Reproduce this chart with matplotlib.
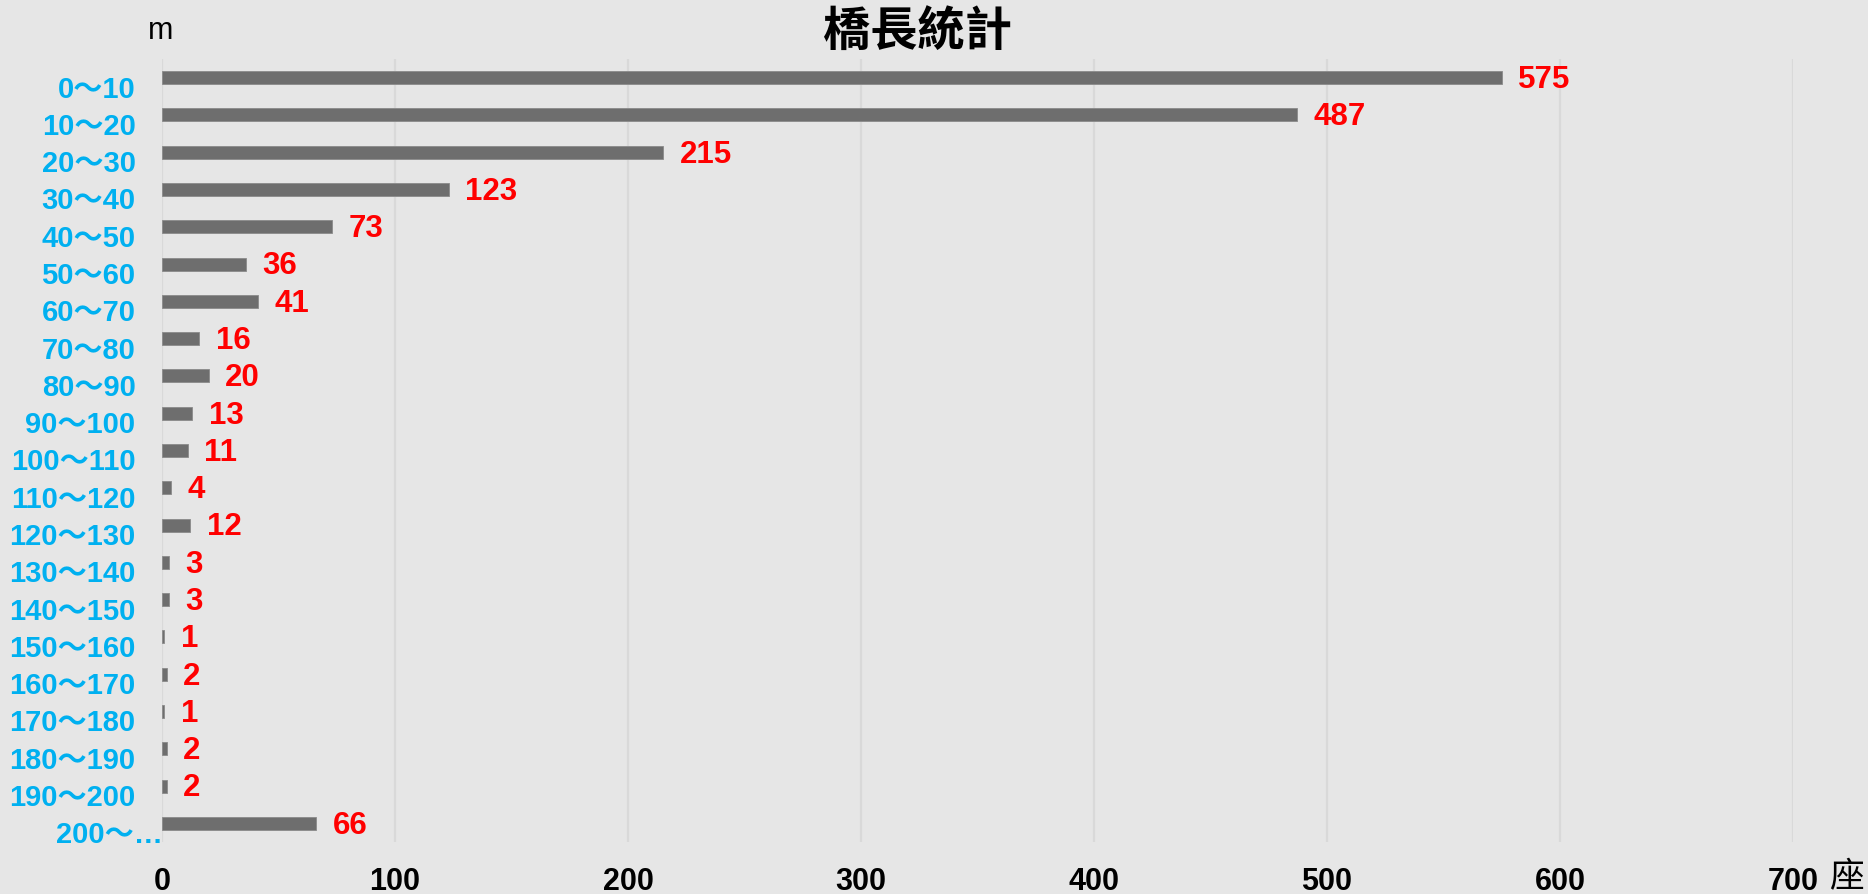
import matplotlib
matplotlib.use("Agg")
import matplotlib.pyplot as plt
from matplotlib.transforms import ScaledTranslation

categories = ["0～10", "10～20", "20～30", "30～40", "40～50", "50～60", "60～70",
              "70～80", "80～90", "90～100", "100～110", "110～120", "120～130",
              "130～140", "140～150", "150～160", "160～170", "170～180",
              "180～190", "190～200", "200～…"]
counts = [575, 487, 215, 123, 73, 36, 41, 16, 20, 13, 11, 4, 12, 3, 3, 1, 2, 1, 2, 2, 66]
xticks = [0, 100, 200, 300, 400, 500, 600, 700]

title = "橋長統計"
y_unit = "m"
x_unit = "座"

BG = "#e6e6e6"
BAR = "#6e6e6e"
CAT = "#00b0f0"
VAL = "#ff0000"
GRID = "#d9d9d9"

W, H = 1868, 895
fig = plt.figure(figsize=(W / 100, H / 100), dpi=100, facecolor=BG)
ax = fig.add_axes([162 / W, 52 / H, 1631 / W, 783 / H])
ax.set_facecolor(BG)

ypos = list(range(len(categories)))
ax.barh(ypos, counts, height=0.35, color=BAR, edgecolor="#8a8a8a", linewidth=0.6, zorder=3)

ax.set_xlim(0, 700)
ax.set_ylim(len(categories) - 0.5, -0.5)
ax.set_xticks(xticks)
ax.set_xticklabels([str(t) for t in xticks], fontsize=22, fontweight="bold",
                   family=["Liberation Sans", "DejaVu Sans"], color="black")
ax.set_yticks(ypos)
ax.set_yticklabels(categories, fontsize=21, fontweight="bold", color=CAT,
                   family=["Liberation Sans", "Noto Sans CJK TC", "DejaVu Sans"])
ax.tick_params(axis="x", length=0, pad=17)
ax.tick_params(axis="y", length=0, pad=19)

for sp in ax.spines.values():
    sp.set_visible(False)
ax.grid(axis="x", color=GRID, linewidth=1.6, zorder=0)
ax.grid(axis="y", visible=False)

# labels sit slightly below bar centres in the reference
lbls = ax.get_yticklabels()
for i, lab in enumerate(lbls):
    dx = 27 / 100 if i == len(lbls) - 1 else 0
    lab.set_transform(lab.get_transform() + ScaledTranslation(dx, -8 / 100, fig.dpi_scale_trans))

for y, v in zip(ypos, counts):
    ax.annotate(str(v), xy=(v, y), xytext=(12, -1), textcoords="offset points",
                ha="left", va="center", fontsize=22.5, fontweight="bold", color=VAL,
                family=["Liberation Sans", "DejaVu Sans"], zorder=4)

fig.text(918 / W, 1 - 32 / H, title, ha="center", va="center", fontsize=34,
         fontweight="bold", family=["Noto Sans CJK TC", "DejaVu Sans"], color="black")
fig.text(161 / W, 1 - 31 / H, y_unit, ha="center", va="center", fontsize=22,
         family=["Liberation Sans", "DejaVu Sans"], color="black")
fig.text(1846 / W, 1 - 878 / H, x_unit, ha="center", va="center", fontsize=25,
         family=["Noto Sans CJK TC", "DejaVu Sans"], color="black")

fig.savefig("out.png", dpi=100, facecolor=BG)
